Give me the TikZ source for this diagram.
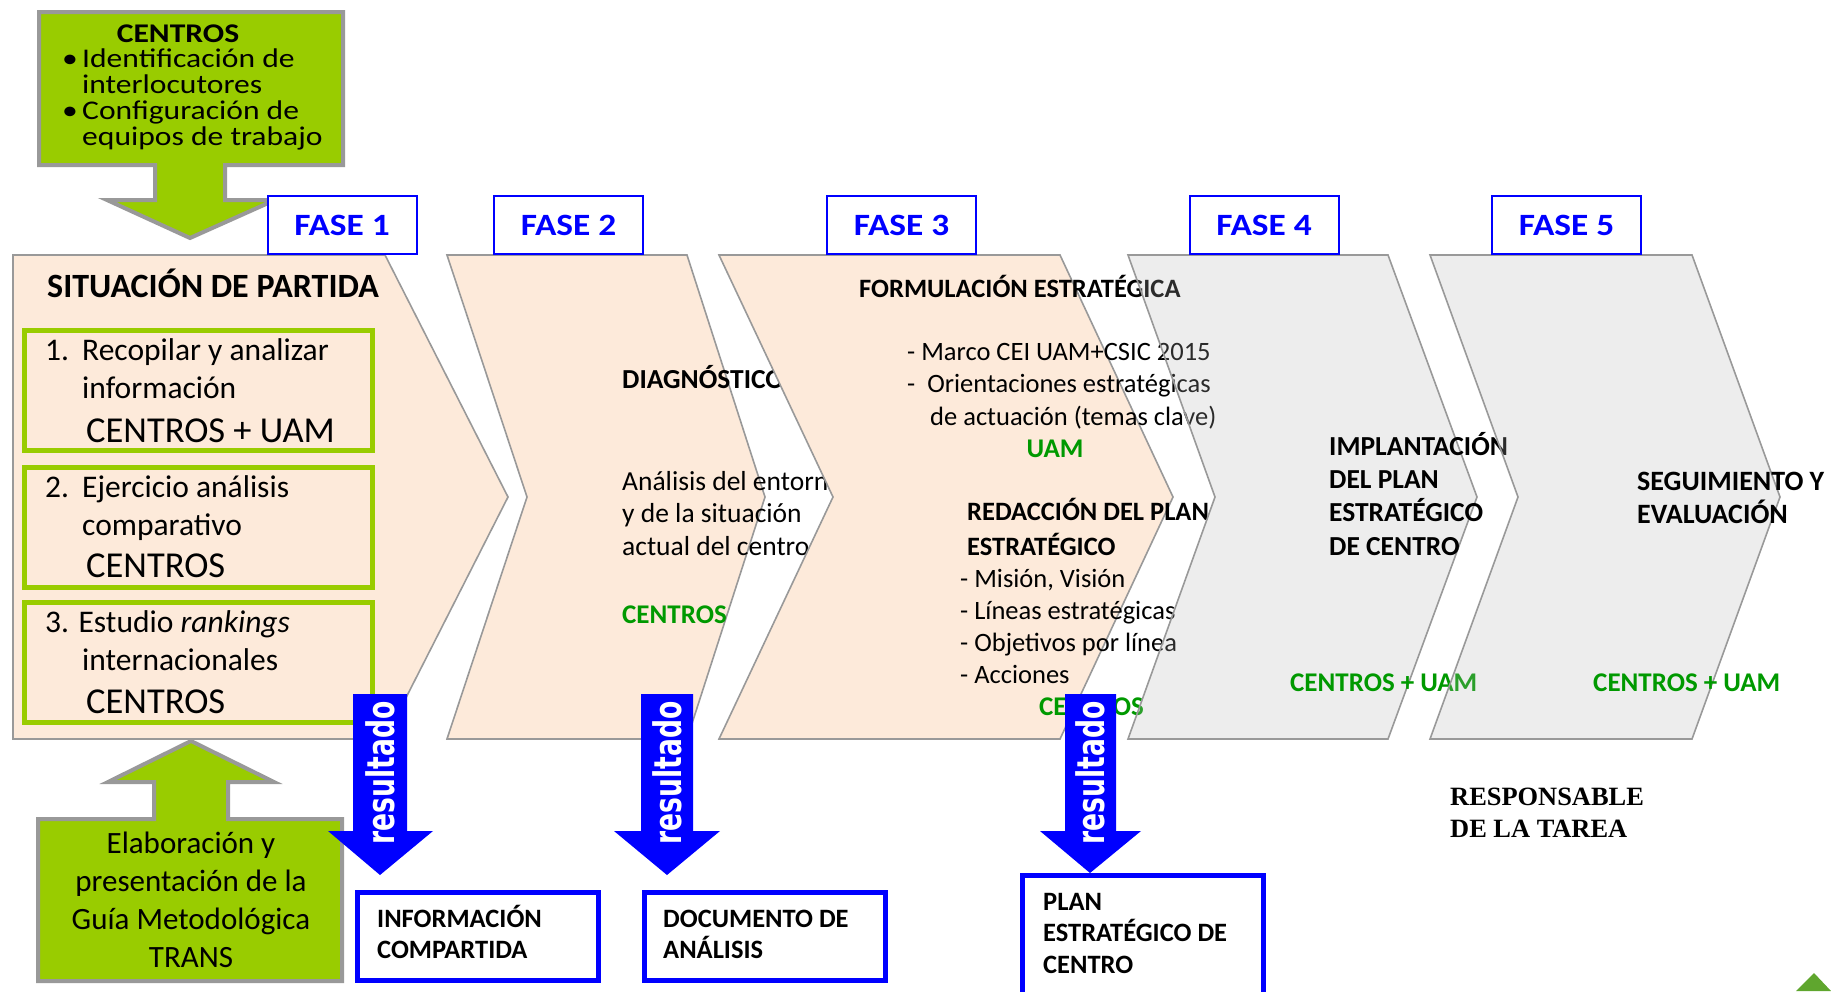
\documentclass[tikz,border=0pt]{standalone}
\usepackage{fontspec}
\setmainfont{Carlito}
\newfontfamily\widefont{Carlito}[FakeStretch=1.17]
\newfontfamily\fasefont{Carlito}[FakeStretch=1.14]
\newfontfamily\tareafont{Liberation Serif}
\newfontfamily\resfont{DejaVu Sans}
\usetikzlibrary{positioning, calc}
\definecolor{cpeach}{HTML}{FDEADA}
\definecolor{cedge}{HTML}{999999}
\definecolor{clime}{HTML}{99CC00}
\definecolor{cblue}{HTML}{0000FF}
\definecolor{cgreen}{HTML}{009900}
\definecolor{cdots}{HTML}{B4B4B4}
\definecolor{clogo}{HTML}{5FA62E}
\newcommand{\fsz}[2]{\fontsize{#1}{#2}\selectfont}
\tikzset{
  chevron/.style={draw=cedge, line width=1.6pt, fill=cpeach},
  greychevron/.style={draw=cedge, line width=1.6pt, fill=cdots, fill opacity=0.24},
  callout/.style={draw=cedge, line width=4pt, fill=clime},
  taskbox/.style={draw=clime, line width=5pt, anchor=north west, minimum width=348, minimum height=120},
  fasebox/.style={draw=cblue, line width=2pt, fill=white, minimum width=149, minimum height=58, inner sep=0pt, font=\fasefont\fsz{31}{36}\bfseries, text=cblue},
  resbox/.style={draw=cblue, line width=5pt, fill=white, anchor=north west, minimum width=241, minimum height=88},
  resarrow/.style={fill=cblue},
  restext/.style={rotate=90, text=white, inner sep=0pt, font=\resfont\fsz{38}{38}\bfseries},
  txt/.style={anchor=base west, align=left, inner sep=0pt, font=\fsz{26.5}{32.5}},
  head/.style={txt, font=\fsz{26.5}{33}\bfseries},
  who/.style={txt, font=\fsz{27}{33}\bfseries, text=cgreen},
}

\begin{document}
\begin{tikzpicture}[x=1pt, y=-1pt]
  \useasboundingbox (0,0) rectangle (1831,991);
  \clip (0,0) rectangle (1831,991);

  \draw[callout] (39,12) -- (343,12) -- (343,165) -- (225,165) -- (225,200) -- (275,200) -- (190,238) -- (107,200) -- (155,200) -- (155,165) -- (39,165) -- cycle;
  \node[font=\widefont\fsz{27}{26}\bfseries, inner sep=0pt, anchor=base] (ctitle) at (178,42) {CENTROS};
  \node[txt, font=\widefont\fsz{27}{26}] (clist) at (62,145) {\makebox[20pt][l]{\textbullet}Identificación de\\\hspace*{20pt}interlocutores\\\makebox[20pt][l]{\textbullet}Configuración de\\\hspace*{20pt}equipos de trabajo};

  \draw[chevron] (13,255) -- (385,255) -- (508,497) -- (385,739) -- (13,739) -- cycle;
  \node[txt, font=\fsz{34}{40}\bfseries] (sit) at (47,297) {SITUACIÓN DE PARTIDA};
  \node[taskbox] (task1) at (22,328) {};
  \node[taskbox] (task2) at (22,465) {};
  \node[taskbox] (task3) at (22,600) {};
  \node[txt, font=\fsz{31.5}{38}] (t1) at (45,398) {\makebox[37pt][l]{1.}Recopilar y analizar\\\hspace*{37pt}información};
  \node[txt, font=\fsz{36.5}{40}] (w1) at (86,442) {CENTROS + UAM};
  \node[txt, font=\fsz{31.5}{38}] (t2) at (45,535) {\makebox[37pt][l]{2.}Ejercicio análisis\\\hspace*{37pt}comparativo};
  \node[txt, font=\fsz{36.5}{40}] (w2) at (86,577) {CENTROS};
  \node[txt, font=\fsz{31.5}{38}] (t3) at (45,670) {3. Estudio \textit{rankings}\\\hspace*{37pt}internacionales};
  \node[txt, font=\fsz{36.5}{40}] (w3) at (86,713) {CENTROS};

  \draw[chevron] (447,255) -- (687,255) -- (765,497) -- (687,739) -- (447,739) -- (527,497) -- cycle;
  \node[head, font=\fsz{27.5}{33}\bfseries] (diag) at (622,388) {DIAGNÓSTICO};
  \node[txt, font=\fsz{27.5}{32.5}] (diagtxt) at (622,555) {Análisis del entorno\\y de la situación\\actual del centro};
  \node[who] (diagwho) at (622,623) {CENTROS};

  \draw[chevron] (719,255) -- (1060,255) -- (1173,497) -- (1060,739) -- (719,739) -- (833,497) -- cycle;
  \node[head] (formu) at (859,297) {FORMULACIÓN ESTRATÉGICA};
  \node[txt] (marco) at (907,425) {- Marco CEI UAM+CSIC 2015\\-\hspace{12pt}Orientaciones estratégicas\\\hspace*{23pt}de actuación (temas clave)};
  \node[who, anchor=base] (formuwho) at (1055,457) {UAM};
  \node[head, font=\fsz{26.5}{35}\bfseries] (redac) at (967,555) {REDACCIÓN DEL PLAN\\ESTRATÉGICO};
  \node[txt, font=\fsz{26.5}{32}] (redactxt) at (960,683) {- Misión, Visión\\- Líneas estratégicas\\- Objetivos por línea\\- Acciones};
  \node[who] (redacwho) at (1039,715) {CENTROS};

  \draw[greychevron] (1128,255) -- (1388,255) -- (1477,497) -- (1388,739) -- (1128,739) -- (1215,497) -- cycle;
  \node[head, font=\fsz{27.5}{33.3}\bfseries] (impl) at (1329,555) {IMPLANTACIÓN\\DEL PLAN\\ESTRATÉGICO\\DE CENTRO};
  \node[who] (implwho) at (1290,691) {CENTROS + UAM};

  \draw[greychevron] (1430,255) -- (1692,255) -- (1780,497) -- (1692,739) -- (1430,739) -- (1518,497) -- cycle;
  \node[head, font=\fsz{28}{33}\bfseries] (segui) at (1637,523) {SEGUIMIENTO Y\\EVALUACIÓN};
  \node[who] (seguiwho) at (1593,691) {CENTROS + UAM};

  \node[fasebox] (fase1) at (342,225) {FASE 1};
  \node[fasebox] (fase2) at (568.5,225) {FASE 2};
  \node[fasebox] (fase3) at (901.5,225) {FASE 3};
  \node[fasebox] (fase4) at (1264,225) {FASE 4};
  \node[fasebox] (fase5) at (1566.5,225) {FASE 5};

  \draw[callout] (38,981) -- (38,819) -- (154,819) -- (154,782) -- (108,782) -- (191,741) -- (274,782) -- (228,782) -- (228,819) -- (342,819) -- (342,981) -- cycle;
  \node[font=\fsz{31}{38}, align=center, inner sep=0pt, anchor=base] (guia) at (191,967) {Elaboración y\\presentación de la\\Guía Metodológica\\TRANS};

  \fill[resarrow] (353,694) -- (407,694) -- (407,831) -- (433,831) -- (380,875) -- (328,831) -- (353,831) -- cycle;
  \node[restext] (res1) at (380,773) {\scalebox{0.7}[1]{resultado}};
  \fill[resarrow] (641,694) -- (693,694) -- (693,831) -- (720,831) -- (667,875) -- (614,831) -- (641,831) -- cycle;
  \node[restext] (res2) at (667,773) {\scalebox{0.7}[1]{resultado}};
  \fill[resarrow] (1065,694) -- (1116,694) -- (1116,831) -- (1141,831) -- (1090,873) -- (1040,831) -- (1065,831) -- cycle;
  \node[restext] (res3) at (1090,773) {\scalebox{0.7}[1]{resultado}};

  \node[resbox] (info) at (355,890) {};
  \node[txt, font=\fsz{26.5}{31}\bfseries] (infotxt) at (377,958) {INFORMACIÓN\\COMPARTIDA};
  \node[resbox] (docu) at (642,890) {};
  \node[txt, font=\fsz{26.5}{31}\bfseries] (docutxt) at (663,958) {DOCUMENTO DE\\ANÁLISIS};
  \node[resbox, minimum height=140] (plan) at (1020,873) {};
  \node[txt, font=\fsz{26.5}{31.5}\bfseries] (plantxt) at (1043,973) {PLAN\\ESTRATÉGICO DE\\CENTRO};

  \node[txt, font=\tareafont\fsz{26.4}{32}\bfseries] (tarea) at (1450,837) {RESPONSABLE\\DE LA TAREA};

  \fill[clogo] (1796,991) -- (1814,973) -- (1831,991) -- cycle;
\end{tikzpicture}
\end{document}
